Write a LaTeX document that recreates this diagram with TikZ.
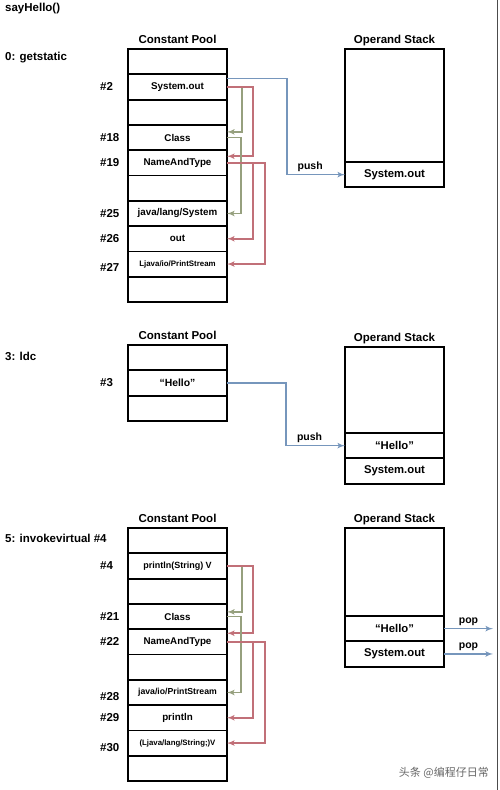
\documentclass[tikz,border=0pt]{standalone}
\usepackage{fontspec}
\setmainfont{Liberation Sans}
\newfontfamily\cjk{Noto Sans CJK SC}
\usepackage{tikz}
\usetikzlibrary{arrows,positioning}
\definecolor{refg}{RGB}{150,160,126}
\definecolor{refr}{RGB}{193,112,120}
\definecolor{pushb}{RGB}{118,150,188}
\tikzstyle{cell} = [rectangle, draw, line width=1.8pt, minimum width=99pt, minimum height=25.3pt, inner sep=0pt, outer sep=0pt, font=\bfseries\fontsize{9.8}{10}\selectfont]
\tikzstyle{slot} = [cell, font=\bfseries\fontsize{11.3}{12}\selectfont]
\tikzstyle{title} = [inner sep=0pt, text height=8pt, text depth=2pt, font=\bfseries\fontsize{11.5}{12}\selectfont]
\tikzstyle{opcode} = [anchor=west, inner sep=0pt, font=\bfseries\fontsize{11.5}{12}\selectfont]
\tikzstyle{idx} = [anchor=west, inner sep=0pt, font=\bfseries\fontsize{11.5}{12}\selectfont]
\tikzstyle{lbl} = [inner sep=2.5pt, text height=7pt, text depth=2pt, text=black, font=\bfseries\fontsize{10.5}{11}\selectfont]
\tikzstyle{ref} = [draw, line width=1.6pt, -latex']
\tikzstyle{line} = [draw, pushb, line width=1.6pt, -latex']

\begin{document}
\begin{tikzpicture}[x=1pt, y=-1pt]
    \useasboundingbox (0,0) rectangle (500,790);

    % 0: getstatic
    \node [opcode] (say) at (5,9) {sayHello()};
    \node [opcode] (op0) at (5,58) {0: getstatic};
    \node [cell, anchor=north west] (top1) at (128,49) {};
    \node [cell, below=0pt of top1] (sysout) {System.out};
    \node [cell, below=0pt of sysout] (gap1a) {};
    \node [cell, below=0pt of gap1a] (class1) {Class};
    \node [cell, below=0pt of class1] (nat1) {NameAndType};
    \node [cell, below=0pt of nat1] (gap1b) {};
    \node [cell, below=0pt of gap1b] (jlsys) {java/lang/System};
    \node [cell, below=0pt of jlsys] (out1) {out};
    \node [cell, below=0pt of out1, font=\bfseries\fontsize{7.9}{8}\selectfont] (ljps) {Ljava/io/PrintStream};
    \node [cell, below=0pt of ljps] (end1) {};
    \node [title, above=3pt of top1] (cp1) {Constant Pool};
    \node [idx] (i2) at ([xshift=-28pt]sysout.west) {\#2};
    \node [idx] (i18) at ([xshift=-28pt]class1.west) {\#18};
    \node [idx] (i19) at ([xshift=-28pt]nat1.west) {\#19};
    \node [idx] (i25) at ([xshift=-28pt]jlsys.west) {\#25};
    \node [idx] (i26) at ([xshift=-28pt]out1.west) {\#26};
    \node [idx] (i27) at ([xshift=-28pt,yshift=-3pt]ljps.west) {\#27};

    \node [slot, anchor=north west, minimum height=113pt] (os1) at (345,49) {};
    \node [slot, below=0pt of os1] (os1out) {System.out};
    \node [title, above=3pt of os1] (st1) {Operand Stack};

    \path [line] ([yshift=-4pt]sysout.north east) -- ++(60,0) |- node [lbl, above, pos=0.7] (push1) {push} (os1out.west);
    \path [ref, refg] (sysout.east) -- ++(15,0) |- ([yshift=-7pt]class1.north east);
    \path [ref, refr] (sysout.east) -- ++(26,0) |- ([yshift=-6pt]nat1.north east);
    \path [ref, refg] (class1.east) -- ++(14,0) |- (jlsys.east);
    \path [ref, refr] (nat1.east) -- ++(26,0) |- (out1.east);
    \path [ref, refr] (nat1.east) -- ++(38,0) |- (ljps.east);

    % 3: ldc
    \node [opcode] (op3) at (5,356) {3: ldc};
    \node [cell, anchor=north west] (top2) at (128,345) {};
    \node [cell, below=0pt of top2, font=\bfseries\fontsize{10.4}{11}\selectfont] (hello) {“Hello”};
    \node [cell, below=0pt of hello] (end2) {};
    \node [title, above=3pt of top2] (cp2) {Constant Pool};
    \node [idx] (i3) at ([xshift=-28pt]hello.west) {\#3};

    \node [slot, anchor=north west, minimum height=86pt] (os2) at (345,347) {};
    \node [slot, below=0pt of os2] (os2hello) {“Hello”};
    \node [slot, below=0pt of os2hello] (os2out) {System.out};
    \node [title, above=3pt of os2] (st2) {Operand Stack};

    \path [line] (hello.east) -- ++(59,0) |- node [lbl, above, pos=0.7] (push2) {push} (os2hello.west);

    % 5: invokevirtual #4
    \node [opcode] (op5) at (5,538) {5: invokevirtual \#4};
    \node [cell, anchor=north west] (top3) at (128,528) {};
    \node [cell, below=0pt of top3, font=\bfseries\fontsize{9}{10}\selectfont] (prtln) {println(String) V};
    \node [cell, below=0pt of prtln] (gap3a) {};
    \node [cell, below=0pt of gap3a] (class3) {Class};
    \node [cell, below=0pt of class3] (nat3) {NameAndType};
    \node [cell, below=0pt of nat3] (gap3b) {};
    \node [cell, below=0pt of gap3b, font=\bfseries\fontsize{8.7}{9}\selectfont] (jiops) {java/io/PrintStream};
    \node [cell, below=0pt of jiops] (pname) {println};
    \node [cell, below=0pt of pname, font=\bfseries\fontsize{7.8}{8}\selectfont] (sig) {(Ljava/lang/String;)V};
    \node [cell, below=0pt of sig] (end3) {};
    \node [title, above=3pt of top3] (cp3) {Constant Pool};
    \node [idx] (i4) at ([xshift=-28pt]prtln.west) {\#4};
    \node [idx] (i21) at ([xshift=-28pt]class3.west) {\#21};
    \node [idx] (i22) at ([xshift=-28pt]nat3.west) {\#22};
    \node [idx] (i28) at ([xshift=-28pt,yshift=-4pt]jiops.west) {\#28};
    \node [idx] (i29) at ([xshift=-28pt]pname.west) {\#29};
    \node [idx] (i30) at ([xshift=-28pt,yshift=-4pt]sig.west) {\#30};

    \node [slot, anchor=north west, minimum height=88pt] (os3) at (345,528) {};
    \node [slot, below=0pt of os3] (os3hello) {“Hello”};
    \node [slot, below=0pt of os3hello] (os3out) {System.out};
    \node [title, above=3pt of os3] (st3) {Operand Stack};

    \path [ref, refg] (prtln.east) -- ++(15,0) |- ([yshift=-8pt]class3.north east);
    \path [ref, refr] (prtln.east) -- ++(26,0) |- ([yshift=-4pt]nat3.north east);
    \path [ref, refg] (class3.east) -- ++(14,0) |- (jiops.east);
    \path [ref, refr] (nat3.east) -- ++(26,0) |- (pname.east);
    \path [ref, refr] (nat3.east) -- ++(38,0) |- (sig.east);

    \coordinate [right=49pt of os3hello.east] (pop1);
    \coordinate [right=49pt of os3out.east] (pop2);
    \path [line] (os3hello.east) -- node [lbl, above] (pop1lbl) {pop} (pop1);
    \path [line] (os3out.east) -- node [lbl, above] (pop2lbl) {pop} (pop2);

    % frame edge and mark
    \draw [gray!60!black, line width=0.8pt] (497,0) -- (497,790);
    \node [anchor=east, inner sep=0pt, text=gray!80!black, font=\cjk\fontsize{11}{12}\selectfont] (mark) at (489,773) {头条 @编程仔日常};
\end{tikzpicture}
\end{document}
